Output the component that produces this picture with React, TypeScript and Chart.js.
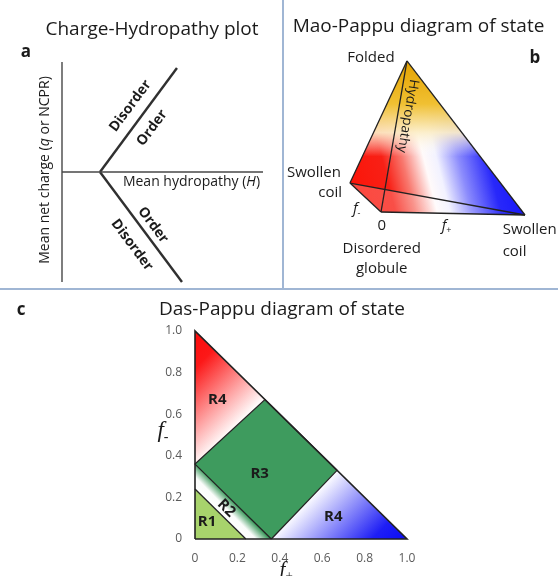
import React, { useEffect, useRef } from "react";
import { Chart, registerables } from "chart.js";

Chart.register(...registerables);

const SANS = "'Open Sans', 'Noto Sans', sans-serif";
const SERIF = "'Liberation Serif', 'DejaVu Serif', serif";
const INK = "#1b1b1b";
const RULE = "rgb(160,182,212)";

/* ---------- a: charge–hydropathy plot (x: mean hydropathy, y: mean net charge) ---------- */
const hydropathyAxis = [{ x: 0, y: 0 }, { x: 1, y: 0 }];
const chargeAxis = [{ x: 0, y: -1 }, { x: 0, y: 1 }];
const upperBoundary = [{ x: 0.189, y: 0 }, { x: 0.572, y: 0.945 }];
const lowerBoundary = [{ x: 0.189, y: 0 }, { x: 0.597, y: -1.0 }];
const boundaryLabels = [
  { text: "Disorder", x: 0.34, y: 0.6, line: "upper" },
  { text: "Order", x: 0.448, y: 0.4, line: "upper" },
  { text: "Order", x: 0.453, y: -0.482, line: "lower" },
  { text: "Disorder", x: 0.348, y: -0.664, line: "lower" },
];

/* ---------- b: Mao-Pappu diagram, corners as (f+, f-, hydropathy) ---------- */
const cornerGlobule = [0, 0, 0];
const cornerPositiveCoil = [1, 0, 0];
const cornerNegativeCoil = [0, 1, 0];
const cornerFolded = [0, 0, 1];
// on-screen direction of each axis (oblique view)
const dirFplus = [0.96, -0.02];
const dirFminus = [-0.207, 0.193];
const dirHydropathy = [0.173, 1.007];
// shading anchors in the projected plane
const chargeShadeFrom = { x: -0.207, y: 0.147 };
const chargeShadeTo = { x: 0.933, y: 0.433 };
const foldShadeTo = { x: 0.173, y: 0.37 };

/* ---------- c: Das-Pappu diagram ---------- */
const fTicks = [0, 0.2, 0.4, 0.6, 0.8, 1.0];
const fTickLabels = ["0", "0.2", "0.4", "0.6", "0.8", "1.0"];
const fcrR1 = 0.24;
const fcrR2 = 0.36;
const ncprLimit = 0.34;
const regionLabels = [
  { text: "R4", x: 0.105, y: 0.668, tilt: false },
  { text: "R3", x: 0.305, y: 0.316, tilt: false },
  { text: "R2", x: 0.148, y: 0.148, tilt: true },
  { text: "R1", x: 0.057, y: 0.082, tilt: false },
  { text: "R4", x: 0.652, y: 0.106, tilt: false },
];

type Seg = { t: string; it?: boolean; sub?: boolean; fam?: string };
type TextOpt = {
  size: number;
  weight?: string;
  align?: "left" | "center" | "right";
  angle?: number;
  color?: string;
  family?: string;
  baseline?: CanvasTextBaseline;
};

function drawText(ctx: CanvasRenderingContext2D, segs: Seg[], x: number, y: number, o: TextOpt) {
  const weight = o.weight ?? "normal";
  const fam = o.family ?? SANS;
  const fontOf = (s: Seg) =>
    `${s.it ? "italic " : ""}${weight} ${s.sub ? Math.round(o.size * 0.62) : o.size}px ${s.fam ?? fam}`;
  ctx.save();
  let total = 0;
  const widths = segs.map((s) => {
    ctx.font = fontOf(s);
    const w = ctx.measureText(s.t).width;
    total += w;
    return w;
  });
  ctx.translate(x, y);
  ctx.rotate(o.angle ?? 0);
  let cx = o.align === "left" ? 0 : o.align === "right" ? -total : -total / 2;
  ctx.fillStyle = o.color ?? INK;
  ctx.textBaseline = o.baseline ?? "middle";
  ctx.textAlign = "left";
  segs.forEach((s, i) => {
    ctx.font = fontOf(s);
    ctx.fillText(s.t, cx, s.sub ? o.size * 0.3 : 0);
    cx += widths[i];
  });
  ctx.restore();
}

const lineSet = (data: { x: number; y: number }[], width: number, color: string) => ({
  data,
  showLine: true,
  borderColor: color,
  borderWidth: width,
  pointRadius: 0,
  fill: false,
  tension: 0,
  clip: false,
});

const quiet = {
  animation: false,
  responsive: false,
  maintainAspectRatio: false,
  events: [],
  plugins: { legend: { display: false }, tooltip: { enabled: false }, title: { display: false } },
};

function makeChargeHydropathy(canvas: HTMLCanvasElement) {
  const textPlugin = {
    id: "chargeHydropathyText",
    afterDatasetsDraw(chart: any) {
      const { ctx, scales } = chart;
      const px = (p: { x: number; y: number }) => [scales.x.getPixelForValue(p.x), scales.y.getPixelForValue(p.y)];
      const angleOf = (seg: { x: number; y: number }[]) => {
        const a = px(seg[0]);
        const b = px(seg[1]);
        return Math.atan2(b[1] - a[1], b[0] - a[0]);
      };
      const up = angleOf(upperBoundary);
      const lo = angleOf(lowerBoundary);
      boundaryLabels.forEach((l) => {
        const [X, Y] = px(l);
        drawText(ctx, [{ t: l.text }], X, Y, { size: 14, weight: "bold", angle: l.line === "upper" ? up : lo });
      });
      const [hx, hy] = px({ x: 0.303, y: -0.09 });
      drawText(ctx, [{ t: "Mean hydropathy (" }, { t: "H", it: true }, { t: ")" }], hx, hy, { size: 14, align: "left" });
      const [qx] = px({ x: 0, y: 0 });
      drawText(
        ctx,
        [{ t: "Mean net charge (" }, { t: "q", it: true }, { t: " or NCPR)" }],
        qx - 17,
        170,
        { size: 14, angle: -Math.PI / 2 }
      );
      drawText(ctx, [{ t: "Charge-Hydropathy plot" }], 152, 30, { size: 19 });
      drawText(ctx, [{ t: "a" }], 26, 57, { size: 17, weight: "bold", baseline: "alphabetic" });
    },
  };
  return new Chart(canvas, {
    type: "scatter",
    data: {
      datasets: [
        lineSet(chargeAxis, 1.4, "#474747"),
        lineSet(hydropathyAxis, 1.4, "#474747"),
        lineSet(upperBoundary, 2.4, "#303030"),
        lineSet(lowerBoundary, 2.4, "#303030"),
      ],
    },
    options: {
      ...quiet,
      layout: { padding: { left: 62, right: 19, top: 62, bottom: 7 } },
      scales: {
        x: { type: "linear", display: false, min: 0, max: 1 },
        y: { type: "linear", display: false, min: -1, max: 1 },
      },
    },
    plugins: [textPlugin],
  } as any);
}

const project = (p: number[]) => ({
  x: p[0] * dirFplus[0] + p[1] * dirFminus[0] + p[2] * dirHydropathy[0],
  y: p[0] * dirFplus[1] + p[1] * dirFminus[1] + p[2] * dirHydropathy[1],
});

function makeMaoPappu(canvas: HTMLCanvasElement) {
  const G = project(cornerGlobule);
  const P = project(cornerPositiveCoil);
  const N = project(cornerNegativeCoil);
  const F = project(cornerFolded);
  const edges = [
    [G, F],
    [F, N],
    [F, P],
    [N, G],
    [G, P],
    [N, P],
  ];
  const shadePlugin = {
    id: "maoPappuShade",
    beforeDatasetsDraw(chart: any) {
      const { ctx, scales } = chart;
      const px = (p: { x: number; y: number }) => [scales.x.getPixelForValue(p.x), scales.y.getPixelForValue(p.y)];
      const path = (pts: { x: number; y: number }[]) => {
        ctx.beginPath();
        pts.forEach((p, i) => {
          const [X, Y] = px(p);
          if (i === 0) ctx.moveTo(X, Y);
          else ctx.lineTo(X, Y);
        });
        ctx.closePath();
      };
      ctx.save();
      path([F, N, G, P]);
      ctx.fillStyle = "#ffffff";
      ctx.fill();
      const [a0, a1] = px(chargeShadeFrom);
      const [b0, b1] = px(chargeShadeTo);
      const rb = ctx.createLinearGradient(a0, a1, b0, b1);
      rb.addColorStop(0, "rgb(252,20,8)");
      rb.addColorStop(0.22, "rgb(248,32,22)");
      rb.addColorStop(0.33, "rgb(248,120,110)");
      rb.addColorStop(0.45, "rgba(255,250,250,1)");
      rb.addColorStop(0.52, "rgba(242,242,255,1)");
      rb.addColorStop(0.64, "rgb(140,140,252)");
      rb.addColorStop(0.8, "rgb(40,40,250)");
      rb.addColorStop(1, "rgb(18,18,250)");
      ctx.fillStyle = rb;
      ctx.fill();
      const [f0, f1] = px(F);
      const [g0, g1] = px(foldShadeTo);
      const gold = ctx.createLinearGradient(f0, f1, g0, g1);
      gold.addColorStop(0, "rgb(228,162,0)");
      gold.addColorStop(0.45, "rgb(240,192,50)");
      gold.addColorStop(0.75, "rgba(252,238,200,0.92)");
      gold.addColorStop(1, "rgba(255,255,255,0)");
      ctx.fillStyle = gold;
      ctx.fill();
      path([N, G, P]);
      const [n0, n1] = px(N);
      const [p0, p1] = px(P);
      const veil = ctx.createLinearGradient(n0, n1, p0, p1);
      veil.addColorStop(0, "rgba(255,255,255,0.22)");
      veil.addColorStop(0.5, "rgba(255,255,255,0.2)");
      veil.addColorStop(1, "rgba(255,255,255,0)");
      ctx.fillStyle = veil;
      ctx.fill();
      ctx.restore();
    },
    afterDatasetsDraw(chart: any) {
      const { ctx, scales } = chart;
      const px = (p: { x: number; y: number }) => [scales.x.getPixelForValue(p.x), scales.y.getPixelForValue(p.y)];
      const put = (segs: Seg[], x: number, y: number, o: TextOpt) => {
        const [X, Y] = px({ x, y });
        drawText(ctx, segs, X, Y, o);
      };
      put([{ t: "Folded" }], -0.067, 1.03, { size: 15 });
      put([{ t: "Swollen" }], -0.447, 0.26, { size: 15 });
      put([{ t: "coil" }], -0.26, 0.127, { size: 15, align: "right" });
      put([{ t: "f", it: true }, { t: "-", sub: true }], -0.162, 0.02, { size: 15 });
      put([{ t: "0" }], 0.005, -0.093, { size: 15 });
      put([{ t: "f", it: true }, { t: "+", sub: true }], 0.437, -0.093, { size: 15 });
      put([{ t: "Swollen" }], 0.811, -0.115, { size: 15, align: "left" });
      put([{ t: "coil" }], 0.811, -0.265, { size: 15, align: "left" });
      put([{ t: "Disordered" }], 0.005, -0.242, { size: 15 });
      put([{ t: "globule" }], 0.005, -0.375, { size: 15 });
      const [fx, fy] = px(F);
      const [gx, gy] = px(G);
      put([{ t: "Hydropathy" }], 0.178, 0.64, { size: 13.5, angle: Math.atan2(gy - fy, gx - fx) });
      drawText(ctx, [{ t: "Mao-Pappu diagram of state" }], 135.5, 27, { size: 19 });
      drawText(ctx, [{ t: "b" }], 252, 63, { size: 17, weight: "bold", baseline: "alphabetic" });
    },
  };
  return new Chart(canvas, {
    type: "scatter",
    data: { datasets: edges.map((e) => lineSet(e, 1.3, "#222222")) },
    options: {
      ...quiet,
      layout: { padding: 0 },
      scales: {
        x: { type: "linear", display: false, min: -98 / 150, max: 177 / 150 },
        y: { type: "linear", display: false, min: -77 / 150, max: 212 / 150 },
      },
    },
    plugins: [shadePlugin],
  } as any);
}

function makeDasPappu(canvas: HTMLCanvasElement) {
  const r3Right = { x: (1 + ncprLimit) / 2, y: (1 - ncprLimit) / 2 };
  const r3Top = { x: (1 - ncprLimit) / 2, y: (1 + ncprLimit) / 2 };
  const outline = [{ x: 0, y: 0 }, { x: 1, y: 0 }, { x: 0, y: 1 }, { x: 0, y: 0 }];
  const r1Edge = [{ x: fcrR1, y: 0 }, { x: 0, y: fcrR1 }];
  const r3Edge = [{ x: fcrR2, y: 0 }, r3Right, r3Top, { x: 0, y: fcrR2 }, { x: fcrR2, y: 0 }];

  const regionPlugin = {
    id: "dasPappuRegions",
    beforeDatasetsDraw(chart: any) {
      const { ctx, scales } = chart;
      const px = (p: { x: number; y: number }) => [scales.x.getPixelForValue(p.x), scales.y.getPixelForValue(p.y)];
      const fillPoly = (pts: { x: number; y: number }[], style: any) => {
        ctx.beginPath();
        pts.forEach((p, i) => {
          const [X, Y] = px(p);
          if (i === 0) ctx.moveTo(X, Y);
          else ctx.lineTo(X, Y);
        });
        ctx.closePath();
        ctx.fillStyle = style;
        ctx.fill();
      };
      const grad = (from: { x: number; y: number }, to: { x: number; y: number }, stops: [number, string][]) => {
        const [a, b] = px(from);
        const [c, d] = px(to);
        const g = ctx.createLinearGradient(a, b, c, d);
        stops.forEach(([t, col]) => g.addColorStop(t, col));
        return g;
      };
      ctx.save();
      fillPoly([{ x: 0, y: 0 }, { x: fcrR1, y: 0 }, { x: 0, y: fcrR1 }], "rgb(168,211,108)");
      fillPoly(
        [{ x: fcrR1, y: 0 }, { x: fcrR2, y: 0 }, { x: 0, y: fcrR2 }, { x: 0, y: fcrR1 }],
        grad({ x: fcrR2 / 2, y: fcrR2 / 2 }, { x: fcrR1 / 2, y: fcrR1 / 2 }, [
          [0, "rgb(62,155,94)"],
          [0.55, "rgb(250,252,250)"],
          [1, "rgb(255,255,255)"],
        ])
      );
      fillPoly([{ x: fcrR2, y: 0 }, r3Right, r3Top, { x: 0, y: fcrR2 }], "rgb(62,155,94)");
      fillPoly(
        [{ x: 0, y: fcrR2 }, r3Top, { x: 0, y: 1 }],
        grad({ x: 0.175, y: 0.525 }, { x: -0.15, y: 0.85 }, [
          [0, "rgb(255,250,250)"],
          [0.72, "rgb(252,24,24)"],
          [1, "rgb(252,10,10)"],
        ])
      );
      fillPoly(
        [{ x: fcrR2, y: 0 }, { x: 1, y: 0 }, r3Right],
        grad({ x: 0.525, y: 0.175 }, { x: 0.85, y: -0.15 }, [
          [0, "rgb(250,250,255)"],
          [0.75, "rgb(30,30,245)"],
          [1, "rgb(12,12,245)"],
        ])
      );
      ctx.restore();
    },
    afterDatasetsDraw(chart: any) {
      const { ctx, scales, chartArea } = chart;
      const px = (p: { x: number; y: number }) => [scales.x.getPixelForValue(p.x), scales.y.getPixelForValue(p.y)];
      const [s0, s1] = px({ x: 0, y: fcrR2 });
      const [e0, e1] = px({ x: fcrR2, y: 0 });
      const bandAngle = Math.atan2(e1 - s1, e0 - s0);
      regionLabels.forEach((r) => {
        const [X, Y] = px(r);
        drawText(ctx, [{ t: r.text }], X, Y, { size: 15, weight: "bold", angle: r.tilt ? bandAngle : 0 });
      });
      const [, fy] = px({ x: 0, y: 0.52 });
      drawText(ctx, [{ t: "f", it: true, fam: SERIF }, { t: "-", sub: true, fam: SERIF }], chartArea.left - 32, fy, {
        size: 23,
      });
      const [fx] = px({ x: 0.43, y: 0 });
      drawText(ctx, [{ t: "f", it: true, fam: SERIF }, { t: "+", sub: true, fam: SERIF }], fx, chartArea.bottom + 31, {
        size: 21,
      });
      drawText(ctx, [{ t: "Das-Pappu diagram of state" }], 282, 20, { size: 19 });
      drawText(ctx, [{ t: "c" }], 21, 25, { size: 17, weight: "bold", baseline: "alphabetic" });
    },
  };

  const axis = (extra: any) => ({
    type: "linear",
    min: 0,
    max: 1,
    grid: { display: false },
    border: { display: false },
    afterBuildTicks: (s: any) => {
      s.ticks = fTicks.map((v) => ({ value: v }));
    },
    ...extra,
  });

  return new Chart(canvas, {
    type: "scatter",
    data: {
      datasets: [lineSet(outline, 1.6, "#222222"), lineSet(r1Edge, 1.3, "#222222"), lineSet(r3Edge, 1.3, "#222222")],
    },
    options: {
      ...quiet,
      layout: { padding: { left: 155, right: 151, top: 41, bottom: 7 } },
      scales: {
        x: axis({
          afterFit: (s: any) => {
            s.height = 30;
          },
          ticks: {
            padding: 4,
            color: "#5a5a5a",
            font: { family: SANS, size: 12 },
            maxRotation: 0,
            autoSkip: false,
            callback: (_v: any, i: number) => fTickLabels[i],
          },
        }),
        y: axis({
          afterFit: (s: any) => {
            s.width = 40;
          },
          ticks: {
            padding: 5,
            color: "#5a5a5a",
            font: { family: SANS, size: 12 },
            autoSkip: false,
            callback: (_v: any, i: number) => fTickLabels[i],
          },
        }),
      },
    },
    plugins: [regionPlugin],
  } as any);
}

export default function App() {
  const aRef = useRef<HTMLCanvasElement>(null);
  const bRef = useRef<HTMLCanvasElement>(null);
  const cRef = useRef<HTMLCanvasElement>(null);
  useEffect(() => {
    const charts = [
      makeChargeHydropathy(aRef.current!),
      makeMaoPappu(bRef.current!),
      makeDasPappu(cRef.current!),
    ];
    return () => charts.forEach((c) => c.destroy());
  }, []);
  const abs = (l: number, t: number, w: number, h: number) => ({
    position: "absolute" as const,
    left: l,
    top: t,
    width: w,
    height: h,
  });
  return (
    <div style={{ position: "fixed", left: 0, top: 0, width: 558, height: 576, background: "#fff", overflow: "hidden" }}>
      <canvas ref={aRef} width={282} height={289} style={abs(0, 0, 282, 289)} />
      <canvas ref={bRef} width={275} height={289} style={abs(283, 0, 275, 289)} />
      <canvas ref={cRef} width={558} height={286} style={abs(0, 290, 558, 286)} />
      <div style={{ ...abs(282, 0, 1.5, 289), background: RULE }} />
      <div style={{ ...abs(0, 288, 558, 2), background: RULE }} />
    </div>
  );
}
